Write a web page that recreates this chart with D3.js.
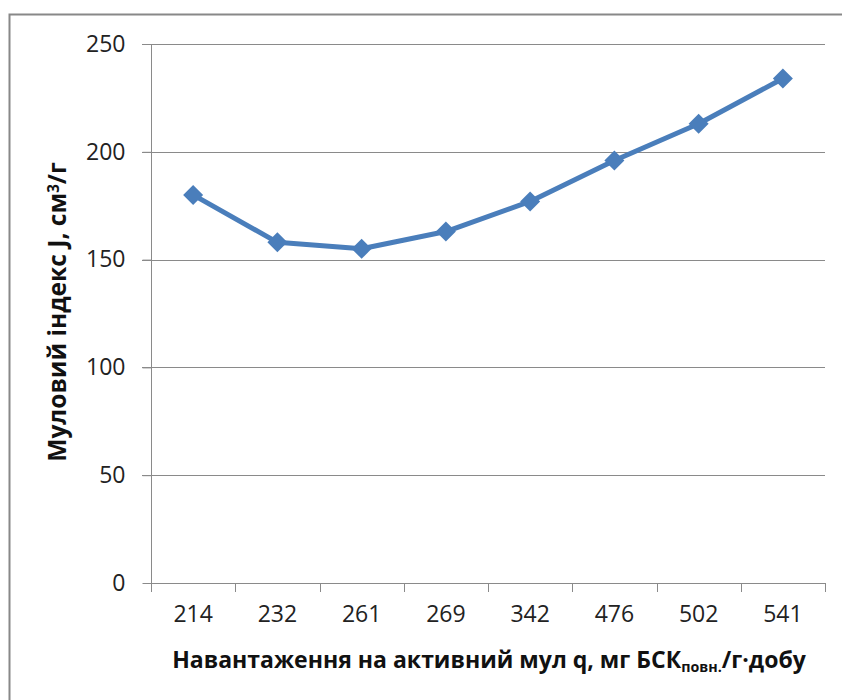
<!DOCTYPE html>
<html>
<head>
<meta charset="utf-8">
<script src="https://cdn.jsdelivr.net/npm/d3@7"></script>
<style>
  html, body { margin: 0; padding: 0; background: #fff; }
  svg { display: block; }
</style>
</head>
<body>
<svg id="chart" width="842" height="700"></svg>
<script>
// Sludge volume index vs. active sludge load
const categories = ["214", "232", "261", "269", "342", "476", "502", "541"];
const sludgeIndex = [180, 158, 155, 163, 177, 196, 213, 234];
const yTicks = [0, 50, 100, 150, 200, 250];

const svg = d3.select("#chart");
const font = "'Open Sans', 'Noto Sans', sans-serif";

// outer frame (clipped on right and bottom)
svg.append("rect")
  .attr("x", 9.5).attr("y", 14.5)
  .attr("width", 845).attr("height", 700)
  .attr("fill", "none").attr("stroke", "#888").attr("stroke-width", 2);

const plot = { left: 151, right: 825, top: 44, bottom: 583 };

const x = d3.scaleBand().domain(categories).range([plot.left, plot.right]);
const y = d3.scaleLinear().domain([0, 250]).range([plot.bottom, plot.top]);

// horizontal gridlines
svg.append("g")
  .selectAll("line")
  .data(yTicks.filter(d => d > 0))
  .join("line")
  .attr("x1", plot.left - 9).attr("x2", plot.right)
  .attr("y1", d => Math.round(y(d)) + 0.5).attr("y2", d => Math.round(y(d)) + 0.5)
  .attr("stroke", "#8a8a8a").attr("stroke-width", 1);

// y axis
const yAxis = svg.append("g")
  .attr("transform", `translate(${plot.left + 0.5},0)`)
  .call(d3.axisLeft(y).tickValues(yTicks).tickSize(9).tickPadding(17));
yAxis.selectAll("path, line").attr("stroke", "#8a8a8a");
yAxis.select(".domain").attr("d", `M0,${plot.bottom + 0.5}V${plot.top}`);
yAxis.selectAll("text")
  .attr("font-family", font).attr("font-size", 23).attr("fill", "#222");

// x axis
const xAxis = svg.append("g")
  .attr("transform", `translate(0,${plot.bottom + 0.5})`)
  .call(d3.axisBottom(x).tickSize(0).tickPadding(22));
xAxis.select(".domain").attr("stroke", "#8a8a8a").attr("d", `M${plot.left},0H${plot.right}`);
xAxis.selectAll("text")
  .attr("font-family", font).attr("font-size", 23).attr("fill", "#222");
// tick marks at category boundaries
const bounds = categories.map(c => x(c)).concat([plot.right]);
svg.append("g")
  .selectAll("line")
  .data(bounds)
  .join("line")
  .attr("x1", d => Math.round(d) + 0.5).attr("x2", d => Math.round(d) + 0.5)
  .attr("y1", plot.bottom).attr("y2", plot.bottom + 9)
  .attr("stroke", "#8a8a8a");

// series line
const cx = d => x(d) + x.bandwidth() / 2;
const color = "#4a7ebb";
const pts = categories.map((c, i) => [cx(c), y(sludgeIndex[i])]);
svg.append("path")
  .datum(pts)
  .attr("d", d3.line())
  .attr("fill", "none").attr("stroke", color)
  .attr("stroke-width", 5).attr("stroke-linejoin", "round");

// diamond markers
svg.append("g")
  .selectAll("path")
  .data(pts)
  .join("path")
  .attr("transform", d => `translate(${d[0]},${d[1]})`)
  .attr("d", "M0,-10L10,0L0,10L-10,0Z")
  .attr("fill", color);

// scale a title's font so that it spans the wanted length
function fitText(sel, target) {
  let size = +sel.attr("font-size");
  const len = sel.node().getComputedTextLength();
  if (len > 0) {
    size = size * target / len;
    sel.attr("font-size", size);
    sel.selectAll("tspan.small").attr("font-size", size * 0.62);
  }
}

// axis titles
const yTitle = svg.append("text")
  .attr("transform", "translate(66,312) rotate(-90)")
  .attr("text-anchor", "middle")
  .attr("font-family", font).attr("font-size", 20).attr("font-weight", "bold").attr("fill", "#111");
yTitle.append("tspan").text("Муловий індекс J, см");
yTitle.append("tspan").attr("class", "small").attr("baseline-shift", "7px").attr("font-size", 13).text("3");
yTitle.append("tspan").attr("baseline-shift", "0").text("/г");
fitText(yTitle, 300);

const xTitle = svg.append("text")
  .attr("x", 489).attr("y", 668)
  .attr("text-anchor", "middle")
  .attr("font-family", font).attr("font-size", 20).attr("font-weight", "bold").attr("fill", "#111");
xTitle.append("tspan").text("Навантаження на активний мул q, мг БСК");
xTitle.append("tspan").attr("class", "small").attr("baseline-shift", "-4px").attr("font-size", 13).text("повн.");
xTitle.append("tspan").attr("baseline-shift", "0").text("/г·добу");
fitText(xTitle, 636);
</script>
</body>
</html>
